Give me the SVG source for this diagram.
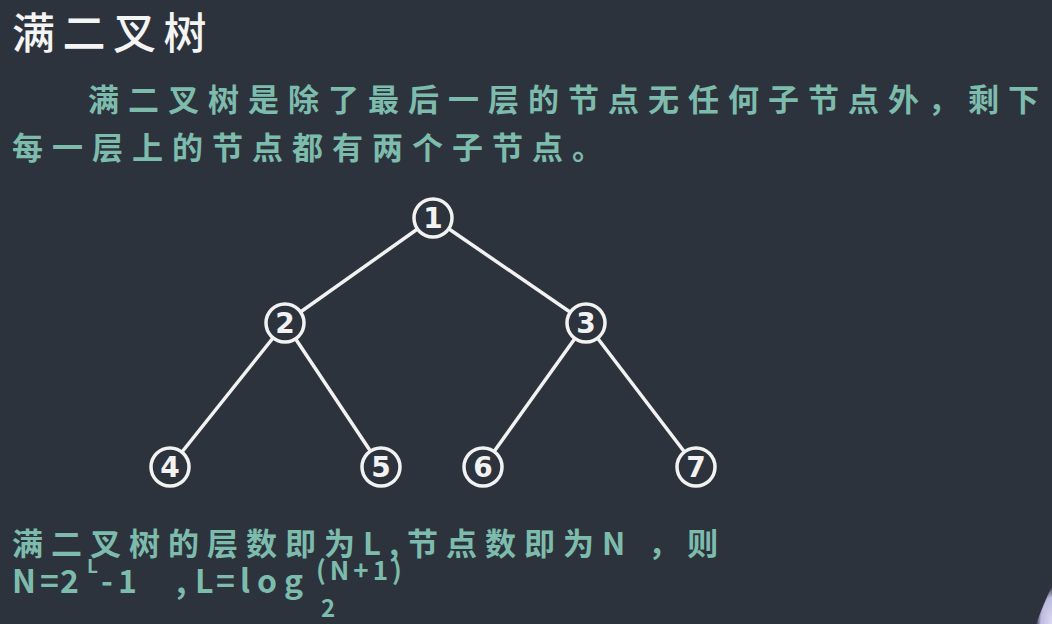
<svg xmlns="http://www.w3.org/2000/svg" width="1052" height="624" viewBox="0 0 1052 624">
<defs>
<style>
.bg{fill:#2d333d}
.title{font-family:"Noto Sans CJK SC","Noto Sans",sans-serif;font-size:43px;fill:#f4f4f4;letter-spacing:7.5px;font-weight:500}
.body{font-family:"Noto Sans CJK SC","Noto Sans",sans-serif;font-size:31px;fill:#7dbcac;letter-spacing:9px;font-weight:700}
.f{font-family:"Noto Sans CJK SC","Noto Sans",sans-serif;fill:#7dbcac;font-weight:700}
.node circle{fill:#2d333d;stroke:#f2f2f2;stroke-width:3.5}
.node text{font-family:"DejaVu Sans","Noto Sans",sans-serif;font-size:28px;font-weight:bold;fill:#f2f2f2;text-anchor:middle}
.edges line{stroke:#f2f2f2;stroke-width:3.5}
</style>
<radialGradient id="blob" cx="1" cy="1" r="1">
<stop offset="0" stop-color="#dcdaf4"/>
<stop offset="0.7" stop-color="#bcbade"/>
<stop offset="1" stop-color="#bcbade" stop-opacity="0"/>
</radialGradient>
</defs>
<rect class="bg" x="0" y="0" width="1052" height="624"/>
<text class="title" x="12" y="49">满二叉树</text>
<text class="body" x="88" y="111">满二叉树是除了最后一层的节点无任何子节点外，剩下</text>
<text class="body" x="12" y="159">每一层上的节点都有两个子节点。</text>
<g class="edges">
<line x1="433" y1="218" x2="285" y2="323"/>
<line x1="433" y1="218" x2="586" y2="323"/>
<line x1="285" y1="323" x2="170" y2="467"/>
<line x1="285" y1="323" x2="381" y2="467"/>
<line x1="586" y1="323" x2="483" y2="467"/>
<line x1="586" y1="323" x2="696" y2="467"/>
</g>
<g id="n1" class="node"><circle cx="433" cy="218" r="19"/><text x="433" y="228">1</text></g>
<g id="n2" class="node"><circle cx="285" cy="323" r="19"/><text x="285" y="333">2</text></g>
<g id="n3" class="node"><circle cx="586" cy="323" r="19"/><text x="586" y="333">3</text></g>
<g id="n4" class="node"><circle cx="170" cy="467" r="19"/><text x="170" y="477">4</text></g>
<g id="n5" class="node"><circle cx="381" cy="467" r="19"/><text x="381" y="477">5</text></g>
<g id="n6" class="node"><circle cx="483" cy="467" r="19"/><text x="483" y="477">6</text></g>
<g id="n7" class="node"><circle cx="696" cy="467" r="19"/><text x="696" y="477">7</text></g>
<text class="body" x="12" y="555" style="letter-spacing:8px">满二叉树的层数即为L,节点数即为N ，则</text>
<g class="f" style="font-size:32px">
<text x="12" y="593">N</text>
<text x="40" y="593">=</text>
<text x="60" y="593">2</text>
<text x="87" y="573" style="font-size:19px">L</text>
<text x="101" y="593">-</text>
<text x="118" y="593">1</text>
<text x="176" y="593">,</text>
<text x="195" y="593">L</text>
<text x="216" y="593">=</text>
<text x="240" y="593" style="letter-spacing:7px">log</text>
<text x="321" y="617" style="font-size:24px">2</text>
<text x="316" y="580" style="font-size:26px;letter-spacing:4px">(N+1)</text>
</g>
<path d="M1052,586 C1046,598 1041,611 1036,624 L1052,624 Z" fill="url(#blob)"/>
</svg>
